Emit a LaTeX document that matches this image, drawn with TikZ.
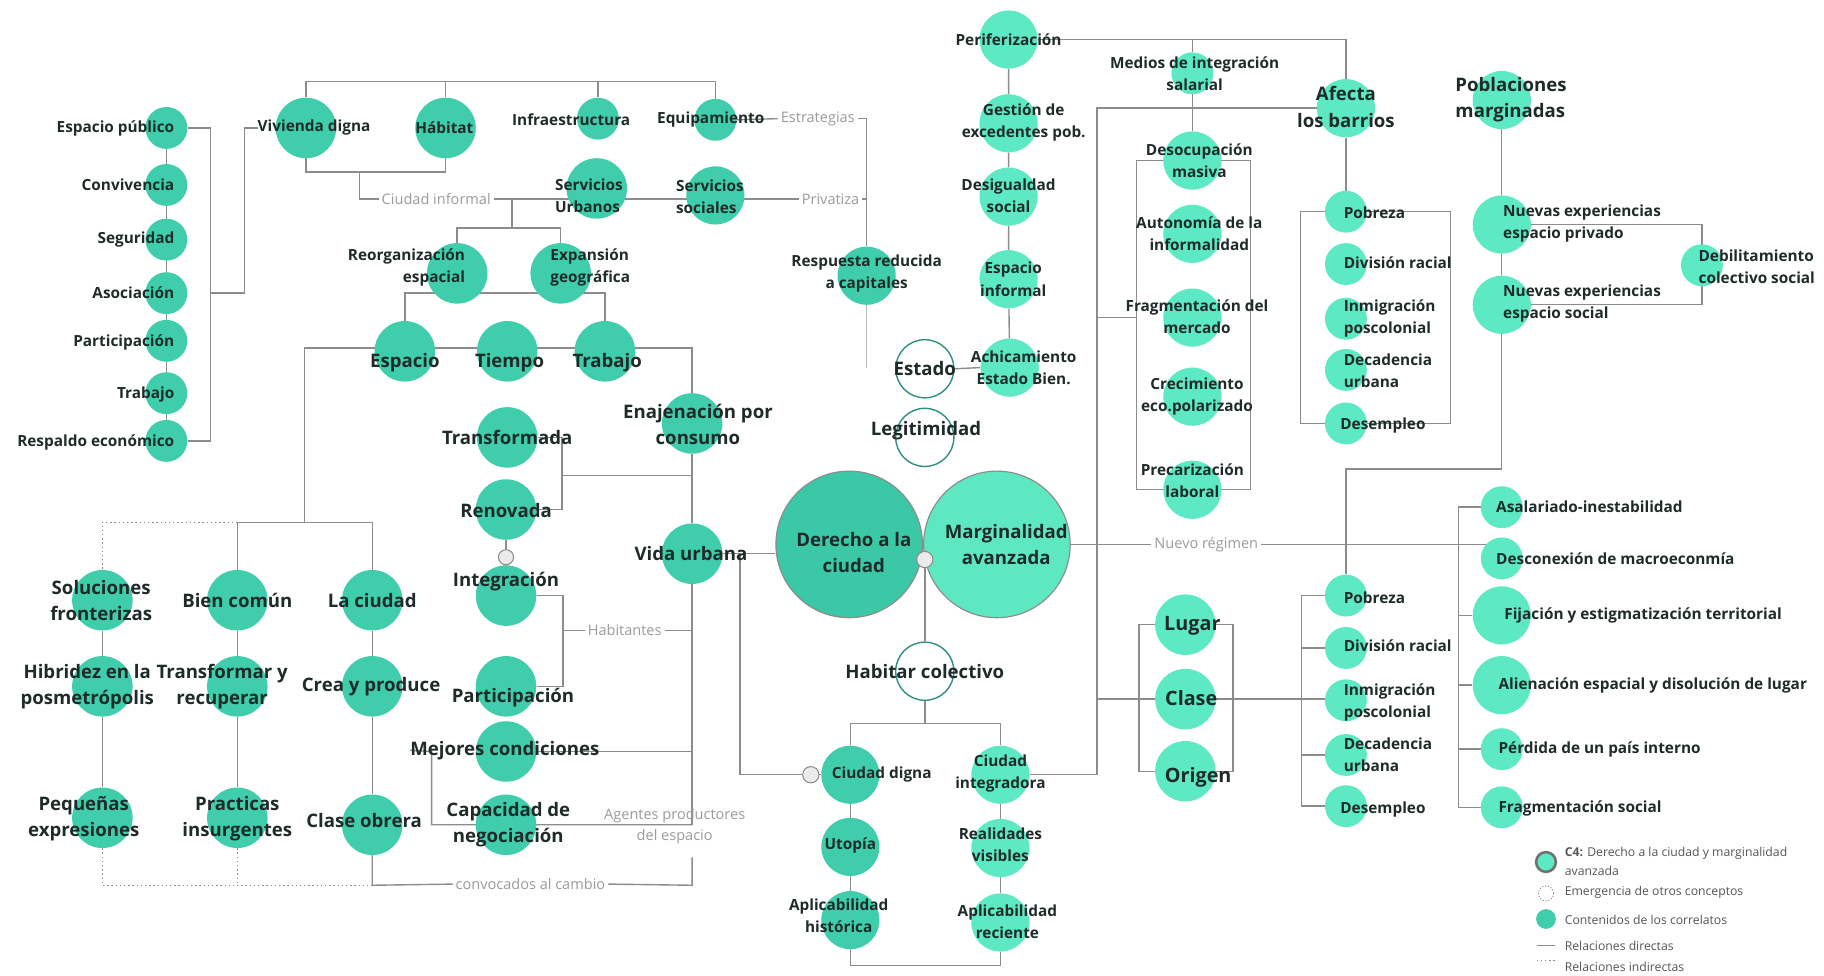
\documentclass[tikz,border=0pt]{standalone}
\usepackage{fontspec}
\setmainfont{Open Sans}
\pgfdeclarelayer{bg}
\pgfdeclarelayer{paper}
\pgfsetlayers{paper,bg,main}
\definecolor{dkc}{HTML}{3FCDAB}
\definecolor{ltc}{HTML}{5DE9C3}
\definecolor{derc}{HTML}{3BC8A6}
\definecolor{marc}{HTML}{5EE8C1}
\definecolor{wtc}{HTML}{2E8F80}
\definecolor{txc}{HTML}{1F2B29}
\definecolor{glc}{HTML}{9B9B9B}
\definecolor{lnc}{HTML}{8C8C8C}
\definecolor{smc}{HTML}{EBEBEB}
\definecolor{lgc}{HTML}{555555}
\begin{document}
\begin{tikzpicture}[x=1pt,y=-1pt,
 cdk/.style={circle,fill=dkc,draw=none,inner sep=0pt},
 clt/.style={circle,fill=ltc,draw=none,inner sep=0pt},
 cwt/.style={circle,fill=white,draw=wtc,line width=1.2pt,inner sep=0pt,minimum size=50pt},
 csm/.style={circle,fill=smc,draw=lnc,line width=0.9pt,inner sep=0pt,minimum size=14pt},
 lab/.style={font=\fontsize{13.2}{19}\selectfont\bfseries,text=txc,inner sep=0pt,align=center},
 labB/.style={font=\fontsize{16}{22.5}\selectfont\bfseries,text=txc,inner sep=0pt,align=center},
 labL/.style={font=\fontsize{17}{22}\selectfont\bfseries,text=txc,inner sep=0pt,align=center},
 glab/.style={font=\fontsize{12.5}{18}\selectfont,text=glc,inner sep=2.5pt,align=center},
 leg/.style={font=\fontsize{10.5}{15.5}\selectfont,text=lgc,inner sep=0pt,align=left,anchor=west},
 ln/.style={draw=lnc,line width=1.2pt},
 lnd/.style={draw=lnc,line width=1.2pt,dash pattern=on 1.2pt off 2.4pt},
 lnl/.style={draw=lnc!60,line width=1pt}
]
\begin{pgfonlayer}{paper}
\fill[white] (0,0) rectangle (1568,839);
\end{pgfonlayer}
\useasboundingbox (0,0) rectangle (1568,839);

% ---------- circles ----------
\foreach \n/\y in {ep/110,cv/159,sg/206,as/252,pa/293,tbj/338,re/379}
  \node[cdk,minimum size=36pt] (\n) at (143,\y) {};
\node[cdk,minimum size=52pt] (vd) at (263,110) {};
\node[cdk,minimum size=52pt] (hb) at (383,110) {};
\node[cdk,minimum size=36pt] (inf) at (514,102) {};
\node[cdk,minimum size=36pt] (eq) at (615,103) {};
\node[cdk,minimum size=52pt] (su) at (513,162) {};
\node[cdk,minimum size=50pt] (ss) at (615,168) {};
\node[cdk,minimum size=52pt] (reo) at (393,235) {};
\node[cdk,minimum size=52pt] (exn) at (482,235) {};
\node[cdk,minimum size=50pt] (rrc) at (745,237) {};
\node[cdk,minimum size=52pt] (espa) at (348,302) {};
\node[cdk,minimum size=52pt] (tie) at (436,302) {};
\node[cdk,minimum size=52pt] (trb) at (520,302) {};
\node[cdk,minimum size=52pt] (ena) at (595,364) {};
\node[cdk,minimum size=52pt] (trf) at (436,376) {};
\node[cdk,minimum size=52pt] (ren) at (435,438) {};
\node[csm,minimum size=13pt] (sc1) at (435,479) {};
\node[cdk,minimum size=52pt] (itg) at (435,512) {};
\node[cdk,minimum size=52pt] (par) at (435,590) {};
\node[cdk,minimum size=52pt] (mej) at (435,646) {};
\node[cdk,minimum size=52pt] (cap) at (435,709) {};
\node[cdk,minimum size=52pt] (vu) at (595,476) {};
\node[cdk,minimum size=52pt] (sf) at (88,516) {};
\node[cdk,minimum size=52pt] (bc) at (204,516) {};
\node[cdk,minimum size=52pt] (lc) at (320,516) {};
\node[cdk,minimum size=52pt] (hib) at (88,590) {};
\node[cdk,minimum size=52pt] (tyr) at (204,590) {};
\node[cdk,minimum size=52pt] (cyp) at (320,590) {};
\node[cdk,minimum size=52pt] (pe) at (88,703) {};
\node[cdk,minimum size=52pt] (pi) at (204,703) {};
\node[cdk,minimum size=52pt] (cl) at (320,709) {};

\node[circle,fill=derc,draw=lnc,line width=1pt,minimum size=126pt,inner sep=0pt] (der) at (730,468) {};
\node[circle,fill=marc,draw=lnc,line width=1pt,minimum size=126pt,inner sep=0pt] (mar) at (857,468) {};
\node[csm] (sc3) at (795,481) {};
\node[cwt] (est) at (795,317) {};
\node[cwt] (leg) at (795,376) {};
\node[cwt] (hc) at (795,577) {};
\node[clt,minimum size=50pt] (ach) at (868,316) {};
\node[csm] (sc2) at (697,666) {};
\node[cdk,minimum size=50pt] (cd) at (731,666) {};
\node[cdk,minimum size=50pt] (ut) at (731,728) {};
\node[cdk,minimum size=50pt] (aph) at (731,791) {};
\node[clt,minimum size=50pt] (ciu) at (860,666) {};
\node[clt,minimum size=50pt] (rv) at (860,729) {};
\node[clt,minimum size=50pt] (apr) at (860,793) {};

\node[clt,minimum size=50pt] (per) at (867,34) {};
\node[clt,minimum size=50pt] (ges) at (867,106) {};
\node[clt,minimum size=50pt] (dsg) at (867,169) {};
\node[clt,minimum size=50pt] (eif) at (867,240) {};
\node[clt,minimum size=36pt] (mis) at (1025,63) {};
\node[clt,minimum size=50pt] (dm) at (1025,138) {};
\node[clt,minimum size=50pt] (aut) at (1025,201) {};
\node[clt,minimum size=50pt] (fdm) at (1025,273) {};
\node[clt,minimum size=50pt] (cre) at (1025,341) {};
\node[clt,minimum size=50pt] (pl) at (1025,421) {};
\node[clt,minimum size=50pt] (afe) at (1157,93) {};
\node[clt,minimum size=36pt] (pob1) at (1157,182) {};
\node[clt,minimum size=36pt] (dr1) at (1157,227) {};
\node[clt,minimum size=36pt] (im1) at (1157,274) {};
\node[clt,minimum size=36pt] (dc1) at (1157,318) {};
\node[clt,minimum size=36pt] (de1) at (1157,364) {};
\node[clt,minimum size=50pt] (pm) at (1291,86) {};
\node[clt,minimum size=50pt] (nep) at (1291,193) {};
\node[clt,minimum size=50pt] (nes) at (1291,262) {};
\node[clt,minimum size=36pt] (deb) at (1463,228) {};

\node[clt,minimum size=52pt] (lug) at (1019,537) {};
\node[clt,minimum size=52pt] (cla) at (1019,601) {};
\node[clt,minimum size=52pt] (ori) at (1019,663) {};
\node[clt,minimum size=36pt] (pob2) at (1157,512) {};
\node[clt,minimum size=36pt] (dr2) at (1157,557) {};
\node[clt,minimum size=36pt] (im2) at (1157,602) {};
\node[clt,minimum size=36pt] (dc2) at (1157,649) {};
\node[clt,minimum size=36pt] (de2) at (1157,693) {};
\node[clt,minimum size=36pt] (asa) at (1291,436) {};
\node[clt,minimum size=36pt] (dmc) at (1291,480) {};
\node[clt,minimum size=50pt] (fij) at (1291,529) {};
\node[clt,minimum size=50pt] (ali) at (1291,589) {};
\node[clt,minimum size=36pt] (prd) at (1291,644) {};
\node[clt,minimum size=36pt] (fsc) at (1291,694) {};

% ---------- labels ----------
\node[lab,anchor=east,align=right] (ep-t) at (150,110) {Espacio público};
\node[lab,anchor=east,align=right] (cv-t) at (150,159) {Convivencia};
\node[lab,anchor=east,align=right] (sg-t) at (150,206) {Seguridad};
\node[lab,anchor=east,align=right] (as-t) at (150,252) {Asociación};
\node[lab,anchor=east,align=right] (pa-t) at (150,294) {Participación};
\node[lab,anchor=east,align=right] (tbj-t) at (150,339) {Trabajo};
\node[lab,anchor=east,align=right] (re-t) at (150,380) {Respaldo económico};
\node[lab] (vd-t) at (270,110) {Vivienda digna};
\node[lab] (hb-t) at (382,110) {Hábitat};
\node[lab] (inf-t) at (491,103) {Infraestructura};
\node[lab] (eq-t) at (611,103) {Equipamiento};
\node[lab,anchor=west,align=left] (su-t) at (477,168) {Servicios\\Urbanos};
\node[lab,anchor=west,align=left] (ss-t) at (581,169) {Servicios\\sociales};
\node[lab,anchor=east,align=right] (reo-t) at (400,230) {Reorganización\\espacial};
\node[lab,anchor=west,align=left] (exn-t) at (473,230) {Expansión\\geográfica};
\node[lab] (rrc-t) at (745,235) {Respuesta reducida\\a capitales};
\node[labB] (espa-t) at (348,312) {Espacio};
\node[labB] (tie-t) at (438,312) {Tiempo};
\node[labB] (trb-t) at (522,312) {Trabajo};
\node[labB] (ena-t) at (600,365) {Enajenación por\\consumo};
\node[labB] (trf-t) at (436,376) {Transformada};
\node[labB] (ren-t) at (435,439) {Renovada};
\node[labB] (itg-t) at (435,500) {Integración};
\node[labB] (par-t) at (441,600) {Participación};
\node[labB] (mej-t) at (434,645) {Mejores condiciones};
\node[labB] (cap-t) at (437,709) {Capacidad de\\negociación};
\node[labB] (vu-t) at (594,476) {Vida urbana};
\node[labB] (sf-t) at (87,516) {Soluciones\\fronterizas};
\node[labB] (bc-t) at (204,516) {Bien común};
\node[labB] (lc-t) at (320,516) {La ciudad};
\node[labB] (hib-t) at (75,590) {Hibridez en la\\posmetrópolis};
\node[labB] (tyr-t) at (191,590) {Transformar y\\recuperar};
\node[labB] (cyp-t) at (319,590) {Crea y produce};
\node[labB] (pe-t) at (72,704) {Pequeñas\\expresiones};
\node[labB] (pi-t) at (204,704) {Practicas\\insurgentes};
\node[labB] (cl-t) at (313,705) {Clase obrera};

\node[labB] (der-t) at (734,475) {Derecho a la\\ciudad};
\node[labB] (mar-t) at (865,468) {Marginalidad\\avanzada};
\node[labB] (est-t) at (795,317) {Estado};
\node[labB] (leg-t) at (796,370) {Legitimidad};
\node[labB] (hc-t) at (795,577) {Habitar colectivo};
\node[lab] (ach-t) at (880,316) {Achicamiento\\Estado Bien.};
\node[lab] (cd-t) at (758,666) {Ciudad digna};
\node[lab] (ut-t) at (731,727) {Utopía};
\node[lab] (aph-t) at (721,787) {Aplicabilidad\\histórica};
\node[lab] (ciu-t) at (860,665) {Ciudad\\integradora};
\node[lab] (rv-t) at (860,726) {Realidades\\visibles};
\node[lab] (apr-t) at (866,792) {Aplicabilidad\\reciente};

\node[lab] (per-t) at (867,34) {Periferización};
\node[lab] (ges-t) at (880,105) {Gestión de\\excedentes pob.};
\node[lab] (dsg-t) at (867,168) {Desigualdad\\social};
\node[lab] (eif-t) at (871,240) {Espacio\\informal};
\node[lab] (mis-t) at (1027,63) {Medios de integración\\salarial};
\node[lab] (dm-t) at (1031,138) {Desocupación\\masiva};
\node[lab] (aut-t) at (1031,201) {Autonomía de la\\informalidad};
\node[lab] (fdm-t) at (1029,272) {Fragmentación del\\mercado};
\node[lab] (cre-t) at (1029,341) {Crecimiento\\eco.polarizado};
\node[lab] (pl-t) at (1025,413) {Precarización\\laboral};
\node[labB] (afe-t) at (1157,92) {Afecta\\los barrios};
\node[lab,anchor=west,align=left] (pob1-t) at (1155,183) {Pobreza};
\node[lab,anchor=west,align=left] (dr1-t) at (1155,226) {División racial};
\node[lab,anchor=west,align=left] (im1-t) at (1155,274) {Inmigración\\poscolonial};
\node[lab,anchor=west,align=left] (dc1-t) at (1155,319) {Decadencia\\urbana};
\node[lab,anchor=west,align=left] (de1-t) at (1152,366) {Desempleo};
\node[labB,anchor=west,align=left] (pm-t) at (1251,86) {Poblaciones\\marginadas};
\node[lab,anchor=west,align=left] (nep-t) at (1292,192) {Nuevas experiencias\\espacio privado};
\node[lab,anchor=west,align=left] (nes-t) at (1292,261) {Nuevas experiencias\\espacio social};
\node[lab,anchor=west,align=left] (deb-t) at (1460,229) {Debilitamiento\\colectivo social};

\node[labL] (lug-t) at (1025,538) {Lugar};
\node[labL] (cla-t) at (1024,600) {Clase};
\node[labL] (ori-t) at (1030,668) {Origen};
\node[lab,anchor=west,align=left] (pob2-t) at (1155,514) {Pobreza};
\node[lab,anchor=west,align=left] (dr2-t) at (1155,555) {División racial};
\node[lab,anchor=west,align=left] (im2-t) at (1155,604) {Inmigración\\poscolonial};
\node[lab,anchor=west,align=left] (dc2-t) at (1155,649) {Decadencia\\urbana};
\node[lab,anchor=west,align=left] (de2-t) at (1152,696) {Desempleo};
\node[lab,anchor=west] (asa-t) at (1286,436) {Asalariado-inestabilidad};
\node[lab,anchor=west] (dmc-t) at (1286,480) {Desconexión de macroeconmía};
\node[lab,anchor=west] (fij-t) at (1293,529) {Fijación y estigmatización territorial};
\node[lab,anchor=west] (ali-t) at (1288,589) {Alienación espacial y disolución de lugar};
\node[lab,anchor=west] (prd-t) at (1288,644) {Pérdida de un país interno};
\node[lab,anchor=west] (fsc-t) at (1288,695) {Fragmentación social};

% gray relation labels
\node[glab] (estr) at (703,102) {Estrategias};
\node[glab] (cinf) at (375,171) {Ciudad informal};
\node[glab] (priv) at (714,171) {Privatiza};
\node[glab] (hab) at (537,542) {Habitantes};
\node[glab] (nr) at (1037,468) {Nuevo régimen};
\node[glab] (conv) at (456,760) {convocados al cambio};
\node[glab] (agp) at (580,710) {Agentes productores\\del espacio};

% legend
\node[circle,fill=ltc,draw=lnc!80!black,line width=2.2pt,minimum size=17pt,inner sep=0pt] (lg1) at (1329,741) {};
\node[leg] (lg1-t) at (1345,740.5) {\textbf{C4:} Derecho a la ciudad y marginalidad\\avanzada};
\node[circle,fill=white,draw=lnc,line width=0.8pt,dash pattern=on 1pt off 1.5pt,minimum size=13pt,inner sep=0pt] (lg2) at (1329,768) {};
\node[leg] (lg2-t) at (1345,767) {Emergencia de otros conceptos};
\node[circle,fill=dkc,minimum size=17pt,inner sep=0pt] (lg3) at (1329,790) {};
\node[leg] (lg3-t) at (1345,791) {Contenidos de los correlatos};
\coordinate (lg4a) at (1321,813);
\coordinate (lg4b) at (1337,813);
\node[leg] (lg4-t) at (1345,813) {Relaciones directas};
\coordinate (lg5a) at (1321,826);
\coordinate (lg5b) at (1339,826);
\node[leg] (lg5-t) at (1345,831) {Relaciones indirectas};

% ---------- connectors ----------
\begin{pgfonlayer}{bg}
\draw[ln] (lg4a) -- (lg4b);
\draw[lnd,line width=1pt] (lg5a) -- (lg5b);
% left column
\draw[ln] (ep) -- (re);
\draw[ln] (ep.east) -- (181,110) -- (181,379) -- (re.east);
\draw[ln] (181,252) -- (210,252) -- (210,110) -- (vd-t.west);
% top group
\draw[ln] (vd.north) -- (263,70) -- (615,70) -- (eq.north);
\draw[ln] (hb.north) -- (383,70);
\draw[ln] (inf.north) -- (514,70);
\draw[ln] (vd.south) -- (263,148) -- (383,148) -- (hb.south);
\draw[ln] (309,148) -- (309,171) -- (cinf.west);
\draw[ln] (cinf.east) -- (priv.west);
\draw[ln] (priv.east) -- (745,171);
\draw[ln] (440,171) -- (440,196) -- (393,196) -- (reo.north);
\draw[ln] (440,196) -- (482,196) -- (exn.north);
\draw[ln] (eq.east) -- (estr.west);
\draw[ln] (estr.east) -- (745,102) -- (rrc.north);
\draw[lnl] (rrc.south) -- (745,316);
\draw[ln] (espa.north) -- (348,252) -- (520,252) -- (trb.north);
\draw[ln] (262,449) -- (262,299) -- (595,299) -- (ena.north);
\draw[ln] (ena) -- (vu);
\draw[ln] (vu.south) -- (595,709);
\draw[ln] (trf.east) -- (483,376) -- (483,438) -- (ren.east);
\draw[ln] (483,409) -- (595,409);
\draw[ln] (ren) -- (sc1) -- (itg);
\draw[ln] (itg.east) -- (484,512) -- (484,590) -- (par.east);
\draw[ln] (484,542) -- (hab.west);
\draw[ln] (hab.east) -- (595,542);
\draw[ln] (mej.east) -- (595,646);
\draw[ln] (mej-t.west) -- (371,646) -- (371,709) -- (595,709);
\draw[ln] (595,737) -- (595,761) -- (conv.east);
\draw[ln] (conv.west) -- (320,761) -- (cl.south);
\draw[lnd] (pe.south) -- (88,761) -- (320,761);
\draw[lnd] (pi.south) -- (204,761);
\draw[ln] (bc.north) -- (204,449) -- (320,449) -- (lc.north);
\draw[lnd] (204,449) -- (88,449) -- (sf.north);
\draw[ln] (sf) -- (hib) -- (pe);
\draw[ln] (bc) -- (tyr) -- (pi);
\draw[ln] (lc) -- (cyp) -- (cl);
% centre
\draw[ln] (vu.east) -- (vu.east -| der.west);
\draw[ln] (636,476) -- (636,666) -- (sc2.west);
\draw[ln] (sc2) -- (cd);
\draw[ln] (est.east) -- (ach.west);
\draw[ln] (sc3) -- (hc);
\draw[ln] (hc.south) -- (795,622);
\draw[ln] (cd.north) -- (731,622) -- (860,622) -- (ciu.north);
\draw[ln] (cd) -- (ut) -- (aph);
\draw[ln] (aph.south) -- (731,830) -- (860,830) -- (apr.south);
\draw[ln] (ciu) -- (rv) -- (apr);
\draw[ln] (ciu.east) -- (943,666) -- (943,93) -- (afe.west);
\draw[ln] (943,273) -- (977,273);
\draw[ln] (943,601) -- (cla.west);
\draw[ln] (mar.east) -- (nr.west);
\draw[ln] (nr.east) -- (1280,468);
% top middle
\draw[ln] (per) -- (ges) -- (dsg) -- (eif) -- (ach);
\draw[ln] (per.east) -- (1157,34) -- (afe.north);
\draw[ln] (1025,34) -- (mis);
\draw[ln] (mis) -- (dm);
\draw[ln] (977,138) rectangle (1075,421);
\draw[ln] (afe) -- (pob1);
\draw[ln] (1118,182) rectangle (1247,364);
\draw[ln] (pm) -- (nep) -- (nes);
\draw[ln] (nes.south) -- (1291,403) -- (1157,403) -- (pob2.north);
\draw[ln] (nep.east) -- (1463,193) -- (1463,262) -- (nes.east);
% lower right
\draw[ln] (lug) -- (979,537) -- (979,663) -- (ori);
\draw[ln] (lug) -- (1060,537) -- (1060,663) -- (ori);
\draw[ln] (cla.east) -- (cla.east -| im2.west);
\draw[ln] (pob2.west) -- (1119,512) -- (1119,693) -- (de2.west);
\draw[ln] (1119,557) -- (dr2.west);
\draw[ln] (1119,649) -- (dc2.west);
\draw[ln] (asa.west) -- (1254,436) -- (1254,694) -- (fsc.west);
\draw[ln] (1254,529) -- (fij.west);
\draw[ln] (1254,589) -- (ali.west);
\draw[ln] (1254,644) -- (prd.west);
\end{pgfonlayer}
\end{tikzpicture}
\end{document}
